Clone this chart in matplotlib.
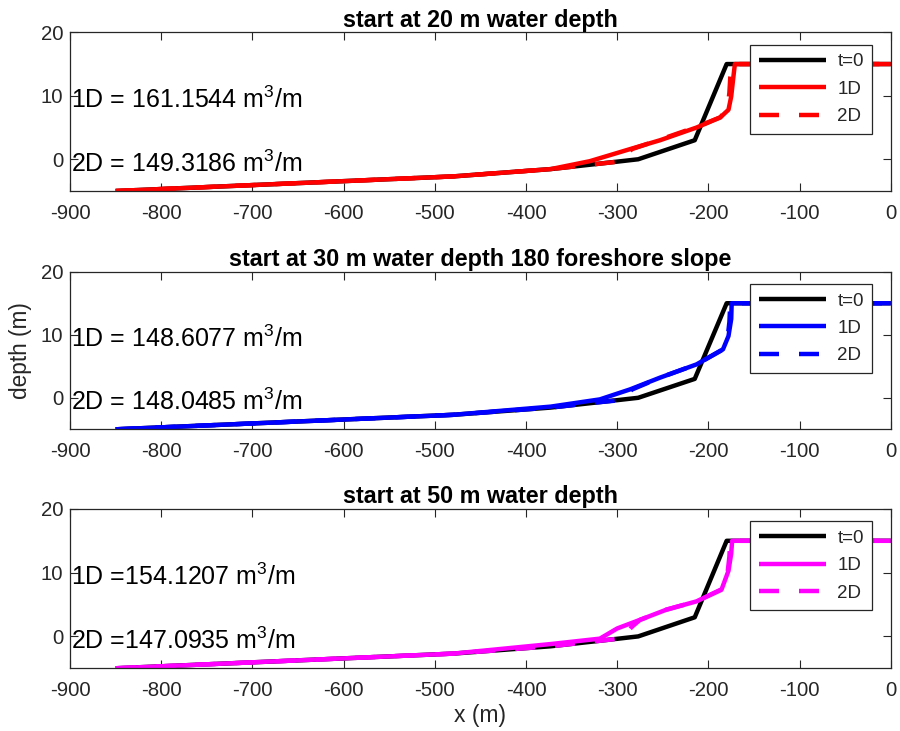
import matplotlib
matplotlib.use("Agg")
import matplotlib.pyplot as plt

plt.rcParams['font.family'] = ['Liberation Sans', 'DejaVu Sans']
plt.rcParams['mathtext.fontset'] = 'custom'
plt.rcParams['mathtext.rm'] = 'Liberation Sans'
plt.rcParams['mathtext.it'] = 'Liberation Sans'
plt.rcParams['axes.unicode_minus'] = False

# ---- data ----
titles = ["start at 20 m water depth",
          "start at 30 m water depth 180 foreshore slope",
          "start at 50 m water depth"]
colors = ["#ff0000", "#0000ff", "#ff00ff"]
labels_1d = ["1D = 161.1544 m$^3$/m", "1D = 148.6077 m$^3$/m", "1D =154.1207 m$^3$/m"]
labels_2d = ["2D = 149.3186 m$^3$/m", "2D = 148.0485 m$^3$/m", "2D =147.0935 m$^3$/m"]

x_t0 = [-850, -480, -373, -320, -277, -215, -180, 0]
y_t0 = [-5, -2.7, -1.55, -0.7, 0, 3, 15, 15]

x_1d_a = [-850, -480, -373, -330, -286, -253, -213, -187, -178, -175, -173, -171, 0]
y_1d_a = [-5, -2.7, -1.55, -0.3, 1.6, 3.0, 5.0, 6.6, 7.8, 9.9, 12.5, 15, 15]
x_2d_a = [-850, -480, -373, -320, -297, -284, -253, -213, -187, -179, -177, -176, -174, 0]
y_2d_a = [-5, -2.7, -1.55, -0.7, -0.35, 1.6, 3.1, 5.1, 6.6, 8.0, 10.5, 13, 15, 15]

x_1d_b = [-850, -480, -373, -319, -286, -253, -213, -184, -178, -175, -174.5, 0]
y_1d_b = [-5, -2.7, -1.4, -0.25, 1.33, 3.2, 5.3, 7.7, 9.8, 12.5, 15, 15]
x_2d_b = [-850, -480, -373, -320, -295, -284, -253, -213, -186, -179, -177, -176, 0]
y_2d_b = [-5, -2.7, -1.55, -0.7, -0.35, 1.3, 3.2, 5.3, 7.5, 9.5, 12, 15, 15]

x_1d_c = [-850, -480, -373, -319, -300, -275, -246, -213, -185.5, -178, -175, -174, 0]
y_1d_c = [-5, -2.7, -1.2, -0.35, 1.25, 2.6, 4.2, 5.5, 7.4, 10.3, 13, 15, 15]
x_2d_c = [-850, -480, -373, -320, -295, -284, -275, -246, -213, -186, -179, -177, -176, 0]
y_2d_c = [-5, -2.7, -1.55, -0.7, -0.3, 1.5, 2.6, 4.2, 5.5, 7.3, 10, 12.5, 15, 15]

series_1d = [(x_1d_a, y_1d_a), (x_1d_b, y_1d_b), (x_1d_c, y_1d_c)]
series_2d = [(x_2d_a, y_2d_a), (x_2d_b, y_2d_b), (x_2d_c, y_2d_c)]

xticks = list(range(-900, 1, 100))
yticks = [0, 10, 20]

# ---- figure ----
fig = plt.figure(figsize=(9, 7.31), dpi=100)
axc = '#262626'
bottoms = [0.7387, 0.4127, 0.0858]
heights = [0.2171, 0.2156, 0.218]

for i in range(3):
    ax = fig.add_axes([0.0778, bottoms[i], 0.912, heights[i]])
    lw = 3.2
    ax.plot(x_t0, y_t0, color='black', lw=lw, label='t=0',
            solid_joinstyle='round', solid_capstyle='butt')
    ax.plot(*series_1d[i], color=colors[i], lw=lw, label='1D',
            solid_joinstyle='round', solid_capstyle='butt')
    ax.plot(*series_2d[i], color=colors[i], lw=lw, ls=(0, (4.5, 4.5)), label='2D',
            dash_capstyle='butt')
    ax.set_xlim(-900, 0)
    ax.set_ylim(-5, 20)
    ax.set_xticks(xticks)
    ax.set_yticks(yticks)
    ax.tick_params(direction='in', length=6, width=0.8, top=True, right=True,
                   labelsize=14.7, colors=axc, labelcolor=axc)
    ax.tick_params(axis='x', pad=9)
    ax.tick_params(axis='y', pad=5)
    for sp in ax.spines.values():
        sp.set_color(axc)
        sp.set_linewidth(0.9)
    ax.set_title(titles[i], fontsize=16.8, fontweight='bold', pad=4, color='black')
    ax.text(-899, 8.0, labels_1d[i], fontsize=18, va='baseline', ha='left', color='black')
    ax.text(-899, -2.0, labels_2d[i], fontsize=18, va='baseline', ha='left', color='black')
    leg = ax.legend(loc='upper right', bbox_to_anchor=(0.9775, 0.922), borderaxespad=0,
                    fontsize=13.5, fancybox=False, framealpha=1, edgecolor=axc,
                    handlelength=3.6, handletextpad=0.6, labelspacing=0.55,
                    borderpad=0.45)
    leg.get_frame().set_linewidth(0.9)
    for t in leg.get_texts():
        t.set_color(axc)
    if i == 1:
        ax.set_ylabel('depth (m)', fontsize=16.3, color=axc, labelpad=6)
    if i == 2:
        ax.set_xlabel('x (m)', fontsize=16.5, color=axc, labelpad=3)

fig.savefig('out.png', dpi=100)
